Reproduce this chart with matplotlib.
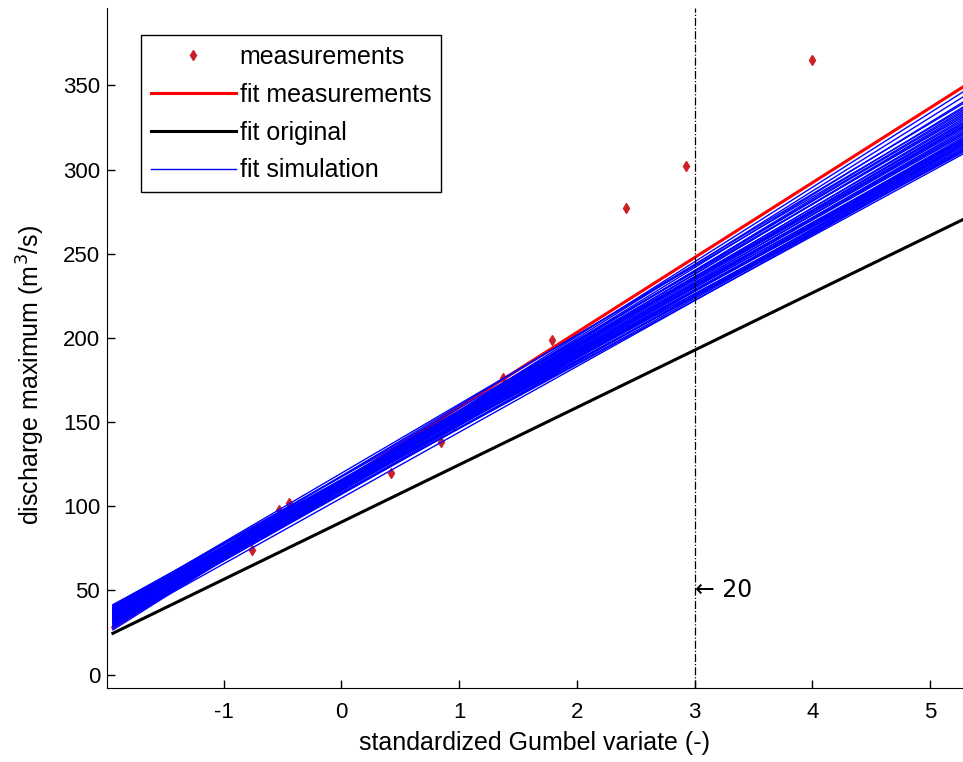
import matplotlib
matplotlib.use("Agg")
import matplotlib.pyplot as plt

# measured annual maxima on the Gumbel axis
meas_x = [-0.76, -0.53, -0.44, 0.42, 0.85, 0.95, 1.37, 1.79, 2.42, 2.93, 4.00]
meas_q = [73.7, 98.0, 102.0, 120.0, 138.0, 148.0, 176.0, 199.0, 277.0, 302.0, 365.0]

# fitted lines, given by their values at the two ends of the plotted range
x_ends = [-1.94, 5.30]
fit_meas = [28.0, 350.0]
fit_orig = [24.5, 271.0]

# simulated fits: value at left end / value at right end
sim_left = [26.5, 27.5, 28.5, 29.5, 30, 31, 31.5, 32, 32.5, 33,
            33.5, 34, 34.5, 35, 35.5, 36, 36.5, 37, 37.5, 38,
            38.5, 39, 39.5, 40, 31, 33, 35, 37, 39, 32,
            34, 36, 38, 30.5, 34, 36, 38.5, 40.5, 33.5, 35.5,
            41, 40, 29, 36.5, 41.5]
sim_right = [347, 344, 341, 338, 320, 334, 315, 331, 326, 329,
             318, 327, 322, 325, 330, 323, 312, 321, 328, 319,
             316, 317, 332, 313, 324, 312, 335, 314, 326, 319,
             333, 328, 311, 316, 310, 317, 322, 315, 336, 313,
             326, 337, 312, 340, 318]

T_line = 3.0      # Gumbel variate of the 20-year return period
T_label = "\u2190 20"

plt.rcParams["font.family"] = ["Liberation Sans", "DejaVu Sans"]
plt.rcParams["font.size"] = 18
plt.rcParams["axes.unicode_minus"] = False

fig = plt.figure(figsize=(9.63, 7.62), dpi=100)
ax = fig.add_axes([0.1111, 0.0971, 0.8889, 0.8924])

ax.plot(meas_x, meas_q, "d", color="#cc1f26", markersize=5.5,
        linestyle="none", label="measurements")
ax.plot(x_ends, fit_meas, color="#ff0000", linewidth=2.2, label="fit measurements")
ax.plot(x_ends, fit_orig, color="black", linewidth=2.2, label="fit original")
for i, (yl, yr) in enumerate(zip(sim_left, sim_right)):
    ax.plot(x_ends, [yl, yr], color="#0000ff", linewidth=1.0,
            label="fit simulation" if i == 0 else None)

ax.axvline(T_line, color="black", linestyle="-.", linewidth=0.9)
ax.text(T_line, 50, T_label, ha="left", va="center", fontsize=17,
        family=["DejaVu Sans"])

ax.set_xlim(-1.99, 5.28)
ax.set_ylim(-8, 396)
ax.set_xticks([-1, 0, 1, 2, 3, 4, 5])
ax.set_yticks([0, 50, 100, 150, 200, 250, 300, 350])
ax.tick_params(direction="in", length=6, width=1, labelsize=16)
ax.tick_params(axis="x", pad=10)
ax.tick_params(axis="y", pad=5)
ax.spines["top"].set_visible(False)
ax.spines["right"].set_visible(False)
ax.set_xlabel("standardized Gumbel variate (-)", labelpad=6)
ax.set_ylabel("discharge maximum (m$^3$/s)")
ax.yaxis.set_label_coords(-0.07, 0.46)

leg = ax.legend(loc="upper left", bbox_to_anchor=(0.0397, 0.96), fancybox=False,
                edgecolor="black", framealpha=1, handlelength=3.4,
                handletextpad=0.15, labelspacing=0.55, borderpad=0.4,
                borderaxespad=0)
leg.get_frame().set_linewidth(1.0)

fig.savefig("out.png", dpi=100)
